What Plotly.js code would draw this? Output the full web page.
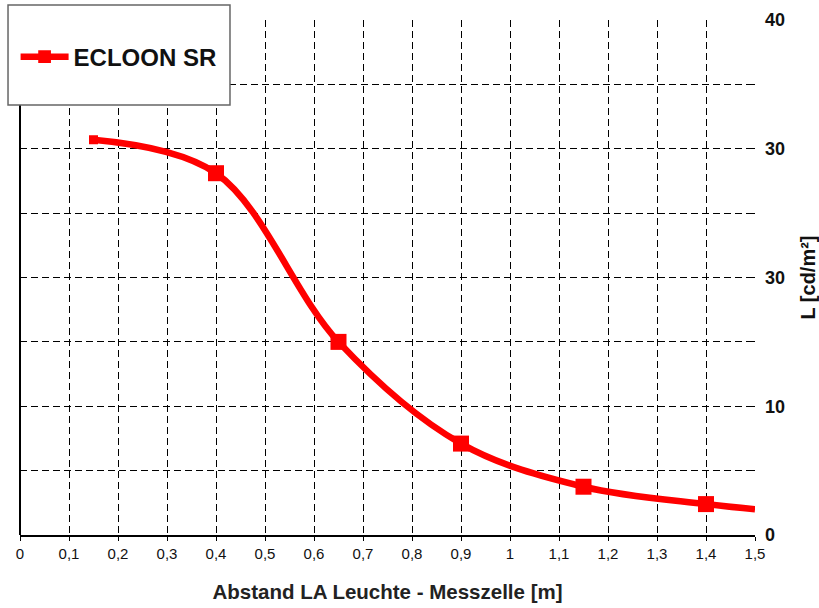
<!DOCTYPE html>
<html>
<head>
<meta charset="utf-8">
<script src="https://cdn.plot.ly/plotly-3.0.1.min.js"></script>
<style>html,body{margin:0;padding:0;background:#fff;}#chart{width:819px;height:608px;}</style>
</head>
<body>
<div id="chart"></div>
<script>
// Data
const seriesName = 'ECLOON SR';
const distance = [0.15, 0.4, 0.65, 0.9, 1.15, 1.4, 1.5];      // Abstand [m]
const luminance = [30.7, 28.1, 15.0, 7.1, 3.75, 2.4, 2.0];    // L [cd/m²]
const markerSizes = [9, 16, 16, 16, 16, 16, 0];
const yTickVals = [0, 5, 10, 15, 20, 25, 30, 35, 40];
const yTickText = ['0', '', '10', '', '30', '', '30', '', '40'];
const xTitle = 'Abstand LA Leuchte - Messzelle [m]';
const yTitle = 'L [cd/m²]';

const trace = {
  x: distance,
  y: luminance,
  name: seriesName,
  type: 'scatter',
  mode: 'lines+markers',
  line: {color: '#ff0000', width: 6.5, shape: 'spline', smoothing: 1.0},
  marker: {symbol: 'square', size: markerSizes, color: '#ff0000', opacity: 1, line: {width: 0}},
  showlegend: true
};

const layout = {
  width: 819, height: 608,
  margin: {l: 20, r: 64, t: 20, b: 73, pad: 0},
  paper_bgcolor: '#ffffff', plot_bgcolor: '#ffffff',
  separators: ',.',
  font: {family: 'Liberation Sans, Arial, sans-serif', color: '#000'},
  showlegend: true,
  legend: {
    x: -0.006, xanchor: 'left', y: 0.928, yanchor: 'middle',
    bgcolor: 'rgba(0,0,0,0)', borderwidth: 0,
    itemwidth: 48,
    font: {size: 24, family: 'Liberation Sans, Arial, sans-serif', weight: 'bold', color: '#111'}
  },
  xaxis: {
    range: [0, 1.5], dtick: 0.1, tick0: 0,
    showgrid: true, gridcolor: '#000', gridwidth: 1, griddash: '7px,4px',
    zeroline: true, zerolinecolor: '#000', zerolinewidth: 1.5,
    showline: true, linecolor: '#000', linewidth: 1.5,
    ticks: 'outside', ticklen: 4, tickcolor: '#000',
    tickfont: {size: 15, color: '#111'},
    title: {text: xTitle, font: {size: 20.5, weight: 'bold', color: '#222'}, standoff: 24},
    fixedrange: true
  },
  yaxis: {
    range: [0, 40], side: 'right',
    tickmode: 'array', tickvals: yTickVals, ticktext: yTickText,
    showgrid: true, gridcolor: '#000', gridwidth: 1, griddash: '7px,4px',
    zeroline: false, showline: false,
    ticks: 'inside', ticklen: 4, tickcolor: '#000',
    ticklabelstandoff: 9,
    tickfont: {size: 18, weight: 'bold', color: '#111'},
    title: {text: yTitle, font: {size: 20, weight: 'bold', color: '#111'}, standoff: 16},
    fixedrange: true
  },
  shapes: [{
    type: 'rect', xref: 'paper', yref: 'paper', layer: 'above',
    x0: -0.0163, x1: 0.2857, y0: 0.835, y1: 1.0291,
    fillcolor: '#ffffff', line: {color: '#666', width: 1.5}
  }]
};

Plotly.newPlot('chart', [trace], layout, {staticPlot: true, displayModeBar: false});
</script>
</body>
</html>
